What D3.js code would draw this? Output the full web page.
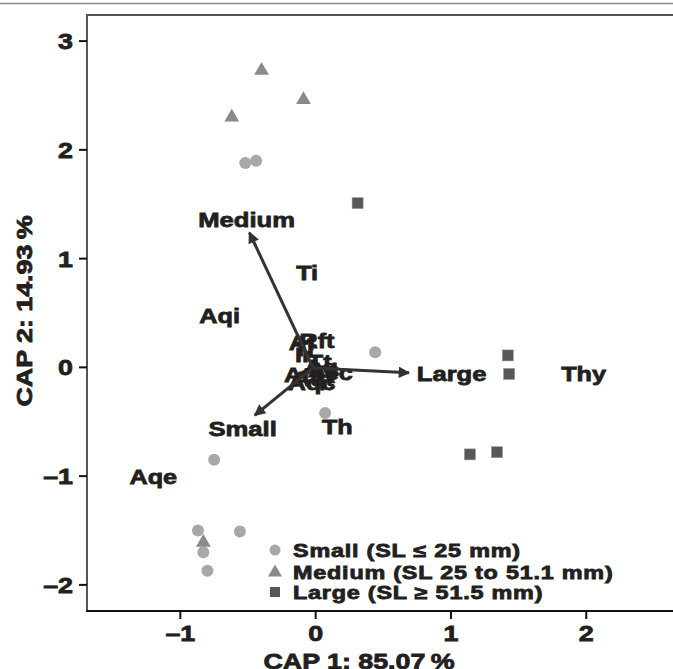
<!DOCTYPE html>
<html>
<head>
<meta charset="utf-8">
<script src="https://cdn.jsdelivr.net/npm/d3@7"></script>
<style>
  body { margin: 0; background: #fff; }
  text { font-family: "Liberation Sans", Arial, sans-serif; font-weight: bold; fill: #231f20;
         stroke: #231f20; stroke-width: 0.8px; }
</style>
</head>
<body>
<div id="chart"></div>
<script>
// data (CAP scores)
const smallPts  = [[-0.52,1.88],[-0.44,1.90],[0.44,0.14],[0.07,-0.42],[-0.75,-0.85],
                   [-0.87,-1.50],[-0.56,-1.51],[-0.83,-1.70],[-0.80,-1.87]];
const mediumPts = [[-0.40,2.73],[-0.62,2.30],[-0.09,2.46],[-0.83,-1.61]];
const largePts  = [[0.31,1.51],[1.42,0.11],[1.43,-0.06],[1.14,-0.80],[1.34,-0.78]];

const arrowNames = ["Medium","Small","Large"];
const arrowTips  = [[-0.49,1.24],[-0.45,-0.44],[0.69,-0.05]];
const arrowLabs  = [[-0.51,1.36],[-0.54,-0.56],[1.005,-0.055]];
const arrowOrigin = [-0.02,-0.005];

// species scores; the ones near the origin overlap into a blot in the original
const speciesNames = ["Thy","Ti","Aqi","Aqe","Th","Rft","Af","Ir","Atr","Aqc","Tec","Ag","Ac","Tt","Aqt","Tr"];
const speciesPos   = [[1.98,-0.055],[-0.063,0.87],[-0.71,0.48],[-1.20,-1.00],[0.16,-0.54],
                      [0.01,0.25],[-0.10,0.225],[-0.09,0.12],[-0.10,-0.07],[-0.03,-0.14],[0.12,-0.05],
                      [0.04,0.01],[0.06,-0.02],[0.03,0.05],[-0.02,-0.10],[-0.08,0.17]];

const xTicks = [-1,0,1,2];
const yTicks = [-2,-1,0,1,2,3];
const legendLabels = ["Small (SL \u2264 25 mm)","Medium (SL 25 to 51.1 mm)","Large (SL \u2265 51.5 mm)"];

const W = 673, H = 669;
const mLeft = 87, mTop = 15, mBottom = 611;
const sx = 1.22; // the figure's lettering is wide

const x = d3.scaleLinear().domain([-1.69, 2.75]).range([mLeft, mLeft + 4.44*135.3]);
const y = d3.scaleLinear().domain([-2.24, 3.24]).range([mBottom, mTop]);

const svg = d3.select("#chart").append("svg")
  .attr("width", W).attr("height", H);

svg.append("defs").append("marker")
  .attr("id","head").attr("viewBox","0 0 10 10")
  .attr("refX",9).attr("refY",5)
  .attr("markerWidth",4.4).attr("markerHeight",3.8)
  .attr("orient","auto").attr("markerUnits","strokeWidth")
  .append("path").attr("d","M0,0 L10,5 L0,10 z").attr("fill","#333");

// page rule above the figure
svg.append("line").attr("x1",0).attr("x2",W).attr("y1",3.5).attr("y2",3.5)
  .attr("stroke","#8a8a8a").attr("stroke-width",1.5);

// frame
const xr = x.range()[1];
svg.append("path").attr("d",`M${mLeft},${mBottom} V${mTop} H${xr}`)
  .attr("fill","none").attr("stroke","#555").attr("stroke-width",2);
svg.append("line").attr("x1",mLeft-1).attr("x2",xr).attr("y1",mBottom).attr("y2",mBottom)
  .attr("stroke","#111").attr("stroke-width",2);

function wide(sel, px, py, k) {
  sel.attr("transform", `translate(${px},${py}) scale(${k},1)`);
  return sel;
}

// ticks
const gx = svg.append("g");
xTicks.forEach(t => {
  gx.append("line").attr("x1",x(t)).attr("x2",x(t)).attr("y1",mBottom).attr("y2",mBottom+8)
    .attr("stroke","#111").attr("stroke-width",2);
  wide(gx.append("text").attr("text-anchor","middle").attr("font-size",22)
    .text(t < 0 ? "\u2013" + Math.abs(t) : t), x(t), 641, sx);
});
const gy = svg.append("g");
yTicks.forEach(t => {
  gy.append("line").attr("x1",mLeft-8).attr("x2",mLeft).attr("y1",y(t)).attr("y2",y(t))
    .attr("stroke","#111").attr("stroke-width",2);
  wide(gy.append("text").attr("text-anchor","end").attr("font-size",22)
    .text(t < 0 ? "\u2013" + Math.abs(t) : t), 73, y(t)+8, sx);
});

// axis titles
wide(svg.append("text").attr("text-anchor","middle").attr("font-size",22)
  .text("CAP 1: 85.07\u2009%"), 359, 669, sx);
svg.append("text").attr("text-anchor","middle").attr("font-size",22)
  .attr("transform","translate(32,311) rotate(-90) scale(1.22,1)")
  .text("CAP 2: 14.93\u2009%");

// points
const pts = svg.append("g");
pts.selectAll("circle").data(smallPts).join("circle")
  .attr("cx",d=>x(d[0])).attr("cy",d=>y(d[1])).attr("r",6).attr("fill","#a8a8a8");
const tri = d3.symbol().type(d3.symbolTriangle).size(95);
pts.selectAll("path.tri").data(mediumPts).join("path").attr("class","tri")
  .attr("d",tri).attr("transform",d=>`translate(${x(d[0])},${y(d[1])})`).attr("fill","#8a8a8a");
pts.selectAll("rect").data(largePts).join("rect")
  .attr("x",d=>x(d[0])-5.5).attr("y",d=>y(d[1])-5.5).attr("width",11).attr("height",11)
  .attr("fill","#575757").attr("stroke","#999").attr("stroke-width",0.6);

// species labels
const labs = svg.append("g").attr("text-anchor","middle");
speciesNames.forEach((n,i) => {
  wide(labs.append("text").attr("font-size",21).text(n),
    x(speciesPos[i][0]), y(speciesPos[i][1])+7.5, 1.2);
});

// arrows
const arr = svg.append("g");
arrowTips.forEach((t,i) => {
  arr.append("line")
    .attr("x1",x(arrowOrigin[0])).attr("y1",y(arrowOrigin[1]))
    .attr("x2",x(t[0])).attr("y2",y(t[1]))
    .attr("stroke","#333").attr("stroke-width",3).attr("marker-end","url(#head)");
  wide(arr.append("text").attr("text-anchor","middle").attr("font-size",21)
    .text(arrowNames[i]), x(arrowLabs[i][0]), y(arrowLabs[i][1])+7.5, 1.22);
});

// legend
const lg = svg.append("g");
const rowY = [550, 571.5, 592];
lg.append("circle").attr("cx",275).attr("cy",rowY[0]).attr("r",5.5).attr("fill","#a8a8a8");
lg.append("path").attr("d",d3.symbol().type(d3.symbolTriangle).size(85))
  .attr("transform",`translate(275,${rowY[1]+1})`).attr("fill","#8a8a8a");
lg.append("rect").attr("x",270).attr("y",rowY[2]-5).attr("width",10).attr("height",10).attr("fill","#575757");
legendLabels.forEach((l,i) => {
  wide(lg.append("text").attr("font-size",18).attr("letter-spacing",0.6).text(l),
    293, rowY[i]+7, 1.3);
});
</script>
</body>
</html>
